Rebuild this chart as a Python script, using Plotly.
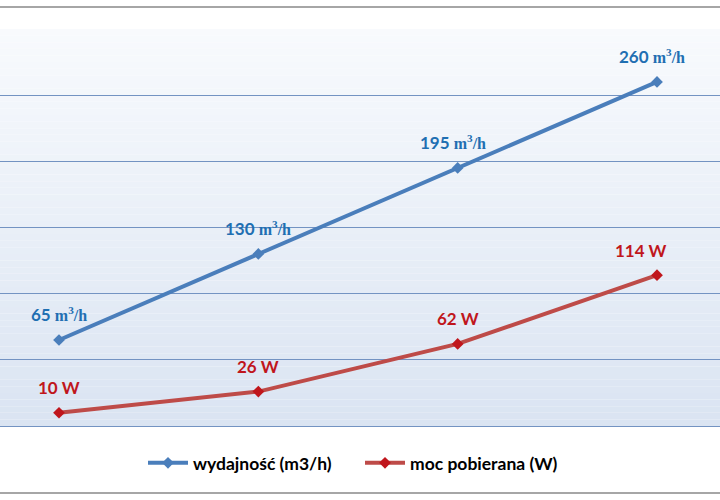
import plotly.graph_objects as go

categories = [0, 1, 2, 3]
flow_values = [65, 130, 195, 260]
power_values = [10, 26, 62, 114]
flow_name = "wydajność (m3/h)"
power_name = "moc pobierana (W)"

BLUE_LINE = "#4a7ebb"
RED_LINE = "#be4b48"
BLUE_TXT = "#1f6fb2"
RED_TXT = "#c0161c"
MAIN_FONT = "Lato"
SERIF = "Liberation Serif"

fig = go.Figure()
fig.add_trace(go.Scatter(x=categories, y=flow_values, name=flow_name, mode="lines+markers",
                         line=dict(color=BLUE_LINE, width=4),
                         marker=dict(symbol="diamond", size=9, color=BLUE_LINE)))
fig.add_trace(go.Scatter(x=categories, y=power_values, name=power_name, mode="lines+markers",
                         line=dict(color=RED_LINE, width=4),
                         marker=dict(symbol="diamond", size=9, color="#c0161c")))

annotations = []
for i, (x, v) in enumerate(zip(categories, flow_values)):
    annotations.append(dict(
        x=x, y=v, xref="x", yref="y", yshift=25, xshift=(-5 if i >= 2 else 0), showarrow=False,
        text=(f"{v} <span style='font-family:{SERIF};font-size:16px'>"
              f"m<sup>3</sup>/h</span>"),
        font=dict(family=MAIN_FONT, size=17, color=BLUE_TXT, weight="bold")))
for i, (x, v) in enumerate(zip(categories, power_values)):
    annotations.append(dict(
        x=x, y=v, xref="x", yref="y", yshift=25,
        xshift=(-16 if i == len(power_values) - 1 else 0), showarrow=False,
        text=f"{v} W",
        font=dict(family=MAIN_FONT, size=17, color=RED_TXT, weight="bold")))

# gradient plot background (decoration)
shapes = []
n = 60
top = (0xf8, 0xfa, 0xfd)
bot = (0xda, 0xe4, 0xf2)
for i in range(n):
    t = i / (n - 1)
    c = tuple(round(top[k] + (bot[k] - top[k]) * t) for k in range(3))
    shapes.append(dict(type="rect", xref="paper", yref="paper", x0=0, x1=1,
                       y0=1 - (i + 1) / n, y1=1 - i / n, layer="below",
                       line=dict(width=0), fillcolor="rgb(%d,%d,%d)" % c))
# outer frame lines
for yy in (1.0554, -0.1688):
    shapes.append(dict(type="line", xref="paper", yref="paper", x0=-0.01, x1=1.01,
                       y0=yy, y1=yy, line=dict(color="#a6a6a6", width=2)))

fig.update_layout(
    width=720, height=500,
    margin=dict(l=0, r=0, t=29, b=74),
    paper_bgcolor="white",
    plot_bgcolor="rgba(0,0,0,0)",
    showlegend=True,
    legend=dict(orientation="h", x=0.5, xanchor="center", y=-0.093, yanchor="middle",
                font=dict(family=MAIN_FONT, size=17.5, color="black", weight="bold"),
                itemwidth=40, entrywidth=162, bgcolor="rgba(0,0,0,0)"),
    xaxis=dict(range=[-0.296, 3.316], showgrid=False, zeroline=False,
               showticklabels=False, showline=False, fixedrange=True),
    yaxis=dict(range=[0, 300], dtick=50, showgrid=True, gridcolor="#7393c2", gridwidth=1,
               zeroline=True, zerolinecolor="#7393c2", zerolinewidth=1,
               showticklabels=False, showline=False, fixedrange=True),
    shapes=shapes,
    annotations=annotations,
)

fig.write_html("out.html")
